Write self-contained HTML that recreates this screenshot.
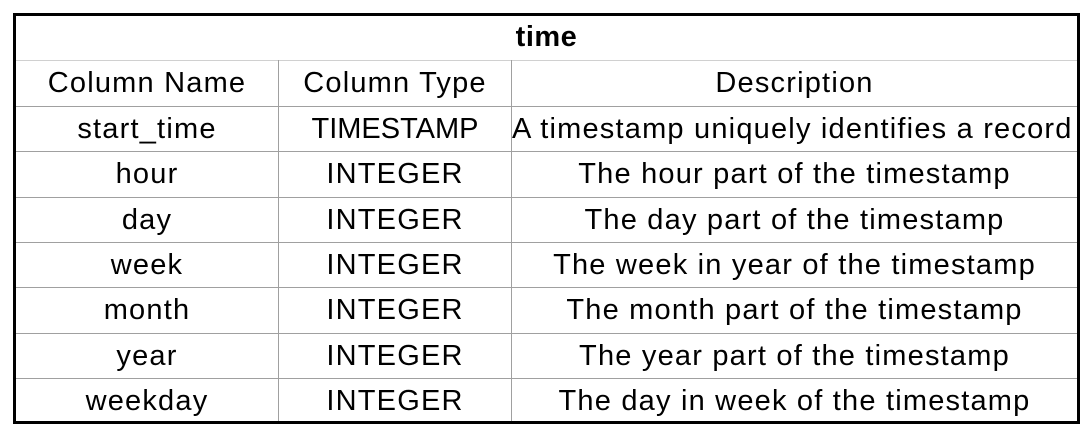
<!DOCTYPE html>
<html><head><style>
body{margin:0;background:#fff;width:1092px;height:436px;position:relative;overflow:hidden;font-family:"Liberation Sans",sans-serif;color:#000}
.box{position:absolute;left:13px;top:13px;width:1061px;height:405px;border:3px solid #000;}
.h{position:absolute;height:1px;background:#a0a0a0}
.v{position:absolute;width:1px;background:#a0a0a0}
.t{position:absolute;height:45px;line-height:44px;text-align:center;font-size:29px;letter-spacing:1.2px;white-space:nowrap;overflow:hidden}
</style></head><body>
<div class="box"></div>
<div class="h" style="left:16px;width:1061px;top:60px;background:#d0d0d0"></div>
<div class="h" style="left:16px;width:1061px;top:106px"></div>
<div class="h" style="left:16px;width:1061px;top:151px"></div>
<div class="h" style="left:16px;width:1061px;top:197px"></div>
<div class="h" style="left:16px;width:1061px;top:242px"></div>
<div class="h" style="left:16px;width:1061px;top:287px"></div>
<div class="h" style="left:16px;width:1061px;top:333px"></div>
<div class="h" style="left:16px;width:1061px;top:378px"></div>
<div class="v" style="left:278px;top:60px;height:361px"></div>
<div class="v" style="left:511px;top:60px;height:361px"></div>
<div class="t" style="left:16px;width:1061px;top:15px;font-weight:bold;letter-spacing:0.5px">time</div>

<div class="t" style="left:16px;width:262px;top:61px">Column Name</div>
<div class="t" style="left:279px;width:232px;top:61px">Column Type</div>
<div class="t" style="left:512px;width:565px;top:61px">Description</div>

<div class="t" style="left:16px;width:262px;top:107px">start_time</div>
<div class="t" style="left:279px;width:232px;top:107px;letter-spacing:0">TIMESTAMP</div>
<div class="t" style="left:512px;width:565px;top:107px;text-align:left;letter-spacing:1.2px">A timestamp uniquely identifies a record</div>

<div class="t" style="left:16px;width:262px;top:152px">hour</div>
<div class="t" style="left:279px;width:232px;top:152px">INTEGER</div>
<div class="t" style="left:512px;width:565px;top:152px">The hour part of the timestamp</div>

<div class="t" style="left:16px;width:262px;top:198px">day</div>
<div class="t" style="left:279px;width:232px;top:198px">INTEGER</div>
<div class="t" style="left:512px;width:565px;top:198px">The day part of the timestamp</div>

<div class="t" style="left:16px;width:262px;top:243px">week</div>
<div class="t" style="left:279px;width:232px;top:243px">INTEGER</div>
<div class="t" style="left:512px;width:565px;top:243px">The week in year of the timestamp</div>

<div class="t" style="left:16px;width:262px;top:288px">month</div>
<div class="t" style="left:279px;width:232px;top:288px">INTEGER</div>
<div class="t" style="left:512px;width:565px;top:288px">The month part of the timestamp</div>

<div class="t" style="left:16px;width:262px;top:334px">year</div>
<div class="t" style="left:279px;width:232px;top:334px">INTEGER</div>
<div class="t" style="left:512px;width:565px;top:334px">The year part of the timestamp</div>

<div class="t" style="left:16px;width:262px;top:379px">weekday</div>
<div class="t" style="left:279px;width:232px;top:379px">INTEGER</div>
<div class="t" style="left:512px;width:565px;top:379px">The day in week of the timestamp</div>
</body></html>
